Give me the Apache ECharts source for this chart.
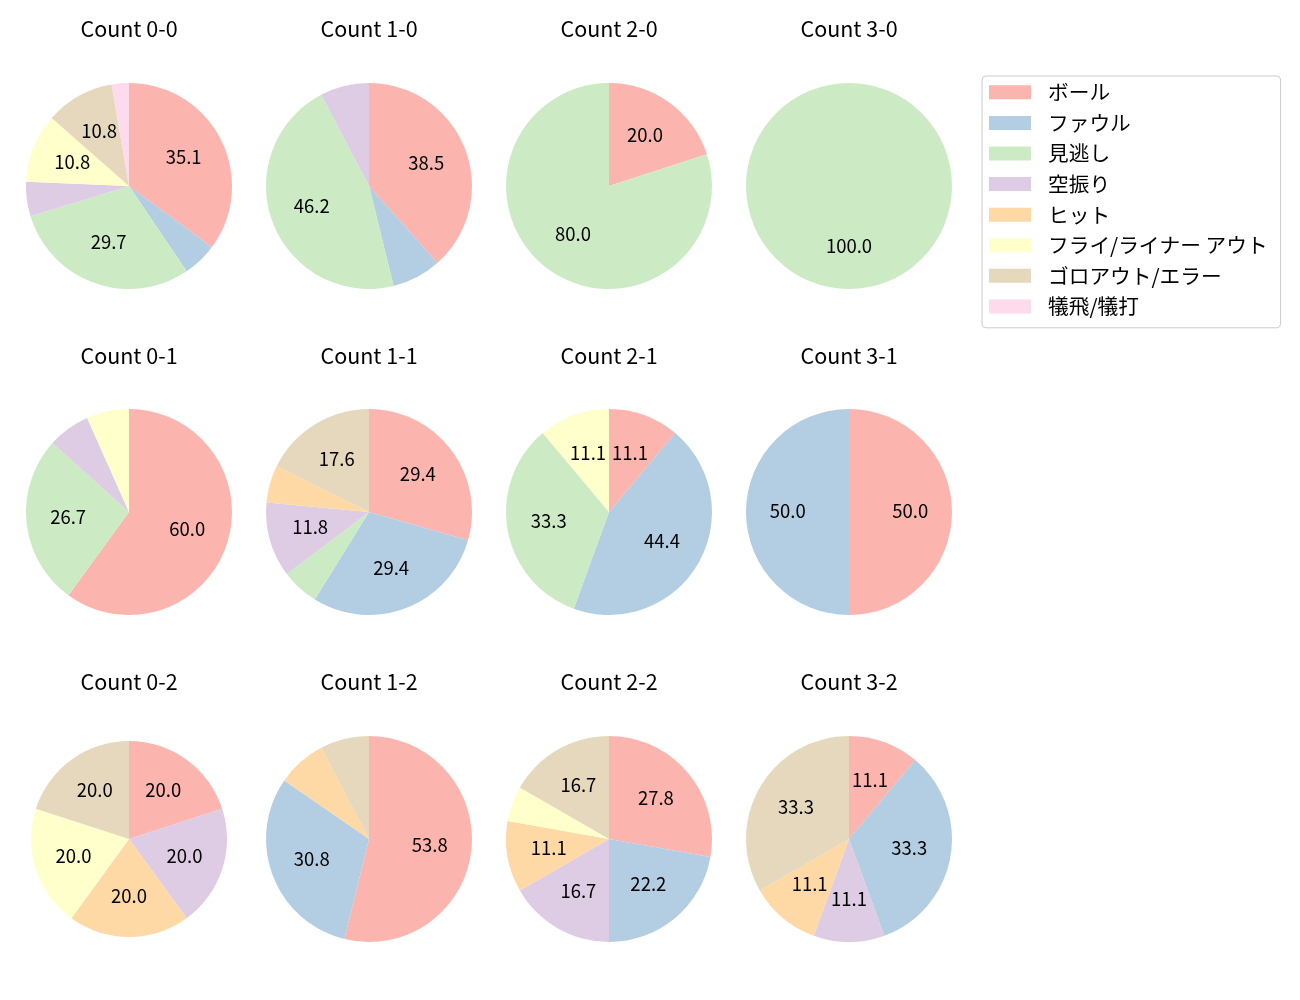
<!DOCTYPE html>
<html>
<head>
<meta charset="utf-8">
<script src="https://cdn.jsdelivr.net/npm/echarts@6/dist/echarts.min.js"></script>
<style>
html,body{margin:0;padding:0;background:#fff;}
#chart{width:1300px;height:1000px;}
</style>
</head>
<body>
<div id="chart"></div>
<script>
// ---- data ----
const categories = ['ボール', 'ファウル', '見逃し', '空振り', 'ヒット', 'フライ/ライナー アウト', 'ゴロアウト/エラー', '犠飛/犠打'];
const colors = ['#fbb4ae', '#b3cde3', '#ccebc5', '#decbe4', '#fed9a6', '#ffffcc', '#e5d8bd', '#fddaec'];
const countLabels = ['0-0', '1-0', '2-0', '3-0', '0-1', '1-1', '2-1', '3-1', '0-2', '1-2', '2-2', '3-2'];
const c00 = [13, 2, 11, 2, 0, 4, 4, 1];
const c10 = [5, 1, 6, 1, 0, 0, 0, 0];
const c20 = [1, 0, 4, 0, 0, 0, 0, 0];
const c30 = [0, 0, 1, 0, 0, 0, 0, 0];
const c01 = [9, 0, 4, 1, 0, 1, 0, 0];
const c11 = [5, 5, 1, 2, 1, 0, 3, 0];
const c21 = [1, 4, 3, 0, 0, 1, 0, 0];
const c31 = [1, 1, 0, 0, 0, 0, 0, 0];
const c02 = [1, 0, 0, 1, 1, 1, 1, 0];
const c12 = [7, 4, 0, 0, 1, 0, 1, 0];
const c22 = [5, 4, 0, 3, 2, 1, 3, 0];
const c32 = [1, 3, 0, 1, 1, 0, 3, 0];
const countValues = [c00, c10, c20, c30, c01, c11, c21, c31, c02, c12, c22, c32];

// ---- layout ----
const colX = [129, 369, 609, 849];
const rowY = [186, 512, 839];
const titleY = [29, 356, 682];
const FONT = '"Noto Sans CJK JP", "Noto Sans", sans-serif';

const chart = echarts.init(document.getElementById('chart'), null, {renderer: 'canvas'});

const visibleSeries = [];
const labelSeries = [];
const graphics = [];

countValues.forEach(function (vals, i) {
  const col = i % 4, row = Math.floor(i / 4);
  const cx = colX[col], cy = rowY[row];
  const r = (i === 8) ? 98 : 103;
  const total = vals.reduce((a, b) => a + b, 0);
  const items = [];
  vals.forEach(function (v, k) {
    if (v > 0) items.push({name: categories[k], value: v, itemStyle: {color: colors[k]}});
  });
  visibleSeries.push({
    type: 'pie', center: [cx, cy], radius: r, startAngle: 90, clockwise: true,
    silent: true, animation: false, avoidLabelOverlap: false,
    itemStyle: {borderWidth: 0},
    label: {show: false}, labelLine: {show: false},
    emphasis: {disabled: true},
    data: items
  });
  labelSeries.push({
    type: 'pie', center: [cx, cy], radius: r * 1.13, startAngle: 90, clockwise: true,
    silent: true, animation: false, avoidLabelOverlap: false,
    itemStyle: {color: 'rgba(0,0,0,0)', borderWidth: 0},
    labelLine: {show: false},
    emphasis: {disabled: true},
    label: {
      show: true, position: 'inside', rotate: 0, offset: [0, -1.5],
      color: '#000', fontSize: 18.5, fontFamily: FONT,
      formatter: function (p) {
        const pct = p.value / total * 100;
        return pct >= 10 ? pct.toFixed(1) : '';
      }
    },
    data: items.map(d => ({name: d.name, value: d.value, itemStyle: {color: 'rgba(0,0,0,0)'}}))
  });
  graphics.push({
    type: 'text', x: cx, y: titleY[row],
    style: {text: 'Count ' + countLabels[i], fill: '#000', font: '21.5px ' + FONT, textAlign: 'center', textVerticalAlign: 'middle'}
  });
});

chart.setOption({
  backgroundColor: '#fff',
  animation: false,
  graphic: graphics,
  legend: {
    orient: 'vertical', left: 982, top: 76,
    data: categories, icon: 'rect', itemWidth: 42, itemHeight: 14, itemGap: 9.9,
    padding: [6, 13, 11, 7],
    borderColor: '#cccccc', borderWidth: 1, borderRadius: 4,
    selectedMode: false,
    formatter: function (name) { return '{t|' + name + '}'; },
    textStyle: {
      color: '#000', fontSize: 20.7, fontFamily: FONT,
      rich: {t: {color: '#000', fontSize: 20.7, fontFamily: FONT, lineHeight: 20, padding: [0, 0, 0, 12]}}
    }
  },
  series: visibleSeries.concat(labelSeries)
});
</script>
</body>
</html>
